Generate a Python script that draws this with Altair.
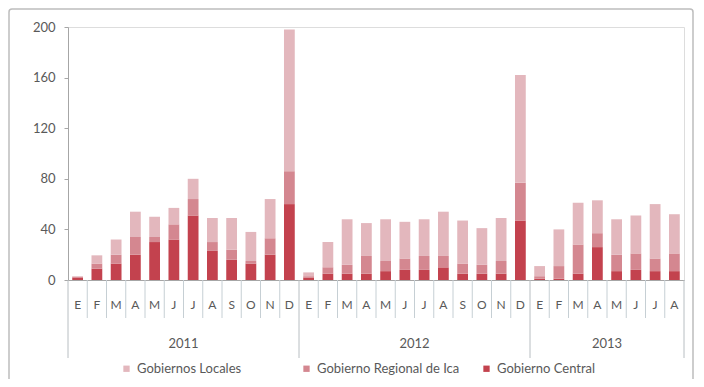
import altair as alt
import pandas as pd

months_2011 = ["E", "F", "M", "A", "M", "J", "J", "A", "S", "O", "N", "D"]
months_2012 = ["E", "F", "M", "A", "M", "J", "J", "A", "S", "O", "N", "D"]
months_2013 = ["E", "F", "M", "A", "M", "J", "J", "A"]
years = ["2011", "2012", "2013"]
series = ["Gobiernos Locales", "Gobierno Regional de Ica", "Gobierno Central"]
colors = ["#e3b7bd", "#d48790", "#c3424e"]

central_2011 = [2, 9, 13, 20, 30, 32, 51, 23, 16, 13, 20, 60]
regional_2011 = [0.5, 4, 7, 14, 4, 12, 13, 7, 8, 2, 13, 26]
local_2011 = [0.5, 6.5, 12, 20, 16, 13, 16, 19, 25, 23, 31, 112]

central_2012 = [2, 5, 5, 5, 7, 8, 8, 10, 5, 5, 5, 47]
regional_2012 = [1, 5, 7, 14, 8, 9, 11, 9, 8, 7, 10, 30]
local_2012 = [3, 20, 36, 26, 33, 29, 29, 35, 34, 29, 34, 85]

central_2013 = [1, 1, 5, 26, 7, 8, 7, 7]
regional_2013 = [2, 10, 23, 11, 13, 13, 10, 14]
local_2013 = [8, 29, 33, 26, 28, 30, 43, 31]

y_ticks = [0, 40, 80, 120, 160, 200]

month_labels = months_2011 + months_2012 + months_2013
central = central_2011 + central_2012 + central_2013
regional = regional_2011 + regional_2012 + regional_2013
local = local_2011 + local_2012 + local_2013
year_sizes = [len(months_2011), len(months_2012), len(months_2013)]
n = len(month_labels)

rows = []
for i in range(n):
    for name, vals, order in [("Gobierno Central", central, 0),
                              ("Gobierno Regional de Ica", regional, 1),
                              ("Gobiernos Locales", local, 2)]:
        rows.append({"idx": i, "x0": i + 0.22, "x1": i + 0.78,
                     "serie": name, "order": order, "value": vals[i]})
bars_df = pd.DataFrame(rows)

labels_df = pd.DataFrame({"xc": [i + 0.5 for i in range(n)], "mes": month_labels})

bounds = [0]
for s in year_sizes:
    bounds.append(bounds[-1] + s)
year_df = pd.DataFrame({"xc": [(bounds[k] + bounds[k + 1]) / 2 for k in range(len(years))],
                        "anio": years})
month_sep = pd.DataFrame({"xs": [i for i in range(1, n) if i not in bounds]})
year_sep = pd.DataFrame({"xs": bounds})

W, H = 616, 253
FONT = "Lato"
TXT = "#595959"

x_scale = alt.Scale(domain=[0, n], nice=False, zero=False)
y_scale = alt.Scale(domain=[0, 200], nice=False)
x_axis = alt.Axis(title=None, labels=False, ticks=False, grid=False,
                  domainColor="#a6a6a6", domainWidth=1)

bars = alt.Chart(bars_df).transform_stack(
    stack="value", groupby=["idx"], as_=["y0", "y1"],
    sort=[alt.SortField("order", order="ascending")]
).mark_bar().encode(
    x=alt.X("x0:Q", scale=x_scale, axis=x_axis),
    x2="x1:Q",
    y=alt.Y("y0:Q", scale=y_scale,
            axis=alt.Axis(title=None, values=y_ticks, grid=False, tickSize=4,
                          labelPadding=9, domainColor="#a6a6a6", tickColor="#a6a6a6",
                          labelColor=TXT, labelFontSize=13, labelFont=FONT)),
    y2="y1:Q",
    color=alt.Color("serie:N", scale=alt.Scale(domain=series, range=colors),
                    legend=alt.Legend(title=None, orient="none", legendX=52, legendY=335,
                                      direction="horizontal", gridAlign="all",
                                      columnPadding=20, symbolType="square",
                                      symbolSize=40, symbolStrokeWidth=0,
                                      labelFontSize=13, labelFont=FONT,
                                      labelColor=TXT, labelOffset=4)),
)

msep = alt.Chart(month_sep).mark_rule(color="#c6cfd4", strokeWidth=1).encode(
    x=alt.X("xs:Q", scale=x_scale, axis=x_axis),
    y=alt.value(H), y2=alt.value(H + 38))

ysep = alt.Chart(year_sep).mark_rule(color="#b8bec2", strokeWidth=1).encode(
    x=alt.X("xs:Q", scale=x_scale, axis=x_axis),
    y=alt.value(H), y2=alt.value(H + 78))

mtext = alt.Chart(labels_df).mark_text(fontSize=12, font=FONT, color=TXT,
                                       baseline="middle").encode(
    x=alt.X("xc:Q", scale=x_scale, axis=x_axis),
    y=alt.value(H + 25), text="mes:N")

ytext = alt.Chart(year_df).mark_text(fontSize=13, font=FONT, color=TXT,
                                     baseline="middle").encode(
    x=alt.X("xc:Q", scale=x_scale, axis=x_axis),
    y=alt.value(H + 64), text="anio:N")

border = alt.Chart(pd.DataFrame({"k": [0]})).mark_rect(
    fillOpacity=0, stroke="#bdbdbd", strokeWidth=1.5, cornerRadius=3).encode(
    x=alt.value(-59), x2=alt.value(625), y=alt.value(-18), y2=alt.value(365))

chart = alt.layer(border, msep, ysep, bars, mtext, ytext).properties(
    width=W, height=H,
    autosize=alt.AutoSizeParams(type="none"),
    padding={"left": 60, "top": 19, "right": 10, "bottom": 99},
).configure_view(stroke=None).configure(background="white")

chart.save("out.html", embed_options={"renderer": "svg", "actions": False})
